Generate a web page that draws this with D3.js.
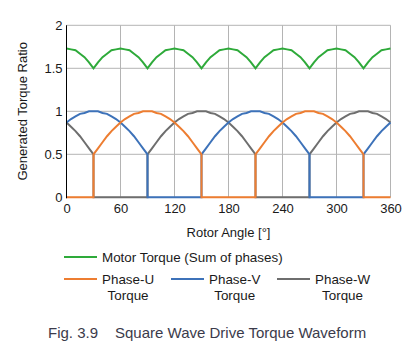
<!DOCTYPE html>
<html>
<head>
<meta charset="utf-8">
<script src="https://cdn.jsdelivr.net/npm/d3@7"></script>
<style>
  html, body { margin: 0; padding: 0; background: #fff; }
  svg { display: block; font-family: "Liberation Sans", Arial, sans-serif; }
</style>
</head>
<body>
<svg id="chart" width="419" height="349"></svg>
<script>
// Rotor angle samples [deg]; angles where a phase switches on/off appear twice
const angles = [
  0, 5, 10, 15, 20, 25, 30, 30,
  35, 40, 45, 50, 55, 60, 65, 70, 75, 80, 85, 90, 90,
  95, 100, 105, 110, 115, 120, 125, 130, 135, 140, 145, 150, 150,
  155, 160, 165, 170, 175, 180, 185, 190, 195, 200, 205, 210, 210,
  215, 220, 225, 230, 235, 240, 245, 250, 255, 260, 265, 270, 270,
  275, 280, 285, 290, 295, 300, 305, 310, 315, 320, 325, 330, 330,
  335, 340, 345, 350, 355, 360
];

// Phase-U torque ratio
const phaseU = [
  0, 0, 0, 0, 0, 0, 0, 0.50,
  0.57, 0.64, 0.71, 0.77, 0.82, 0.87, 0.91, 0.94, 0.97, 0.98, 1.00, 1.00, 1.00,
  1.00, 0.98, 0.97, 0.94, 0.91, 0.87, 0.82, 0.77, 0.71, 0.64, 0.57, 0.50, 0,
  0, 0, 0, 0, 0, 0, 0, 0, 0, 0, 0, 0, 0.50,
  0.57, 0.64, 0.71, 0.77, 0.82, 0.87, 0.91, 0.94, 0.97, 0.98, 1.00, 1.00, 1.00,
  1.00, 0.98, 0.97, 0.94, 0.91, 0.87, 0.82, 0.77, 0.71, 0.64, 0.57, 0.50, 0,
  0, 0, 0, 0, 0, 0
];

// Phase-V torque ratio
const phaseV = [
  0.87, 0.91, 0.94, 0.97, 0.98, 1.00, 1.00, 1.00,
  1.00, 0.98, 0.97, 0.94, 0.91, 0.87, 0.82, 0.77, 0.71, 0.64, 0.57, 0.50, 0,
  0, 0, 0, 0, 0, 0, 0, 0, 0, 0, 0, 0, 0.50,
  0.57, 0.64, 0.71, 0.77, 0.82, 0.87, 0.91, 0.94, 0.97, 0.98, 1.00, 1.00, 1.00,
  1.00, 0.98, 0.97, 0.94, 0.91, 0.87, 0.82, 0.77, 0.71, 0.64, 0.57, 0.50, 0,
  0, 0, 0, 0, 0, 0, 0, 0, 0, 0, 0, 0, 0.50,
  0.57, 0.64, 0.71, 0.77, 0.82, 0.87
];

// Phase-W torque ratio
const phaseW = [
  0.87, 0.82, 0.77, 0.71, 0.64, 0.57, 0.50, 0,
  0, 0, 0, 0, 0, 0, 0, 0, 0, 0, 0, 0, 0.50,
  0.57, 0.64, 0.71, 0.77, 0.82, 0.87, 0.91, 0.94, 0.97, 0.98, 1.00, 1.00, 1.00,
  1.00, 0.98, 0.97, 0.94, 0.91, 0.87, 0.82, 0.77, 0.71, 0.64, 0.57, 0.50, 0,
  0, 0, 0, 0, 0, 0, 0, 0, 0, 0, 0, 0, 0.50,
  0.57, 0.64, 0.71, 0.77, 0.82, 0.87, 0.91, 0.94, 0.97, 0.98, 1.00, 1.00, 1.00,
  1.00, 0.98, 0.97, 0.94, 0.91, 0.87
];

// Motor torque (sum of phases)
const motorTorque = [
  1.73, 1.72, 1.71, 1.67, 1.63, 1.57, 1.50, 1.50,
  1.57, 1.63, 1.67, 1.71, 1.72, 1.73, 1.72, 1.71, 1.67, 1.63, 1.57, 1.50, 1.50,
  1.57, 1.63, 1.67, 1.71, 1.72, 1.73, 1.72, 1.71, 1.67, 1.63, 1.57, 1.50, 1.50,
  1.57, 1.63, 1.67, 1.71, 1.72, 1.73, 1.72, 1.71, 1.67, 1.63, 1.57, 1.50, 1.50,
  1.57, 1.63, 1.67, 1.71, 1.72, 1.73, 1.72, 1.71, 1.67, 1.63, 1.57, 1.50, 1.50,
  1.57, 1.63, 1.67, 1.71, 1.72, 1.73, 1.72, 1.71, 1.67, 1.63, 1.57, 1.50, 1.50,
  1.57, 1.63, 1.67, 1.71, 1.72, 1.73
];

const xTicks = [0, 60, 120, 180, 240, 300, 360];
const yTicks = [0, 0.5, 1, 1.5, 2];

const colors = {
  motor: "#2eaa3a",
  u: "#ed7d31",
  v: "#3d72b9",
  w: "#6e6e6e"
};

const svg = d3.select("#chart");
const plotLeft = 66.5, plotRight = 390.5, plotTop = 25.3, plotBottom = 197.3;

const x = d3.scaleLinear().domain([0, 360]).range([plotLeft, plotRight]);
const y = d3.scaleLinear().domain([0, 2]).range([plotBottom, plotTop]);

// Grid
const grid = svg.append("g");
grid.selectAll("line.h").data(yTicks).join("line")
  .attr("x1", plotLeft).attr("x2", plotRight)
  .attr("y1", d => y(d)).attr("y2", d => y(d))
  .attr("stroke", "#b4b4b4").attr("stroke-width", 1);
grid.selectAll("line.v").data(xTicks).join("line")
  .attr("y1", plotTop).attr("y2", plotBottom)
  .attr("x1", d => x(d)).attr("x2", d => x(d))
  .attr("stroke", "#b4b4b4").attr("stroke-width", 1);

// Axes (labels only; the left axis line is drawn separately)
const xAxis = svg.append("g")
  .attr("transform", `translate(0,${plotBottom})`)
  .call(d3.axisBottom(x).tickValues(xTicks).tickSize(0).tickPadding(6).tickFormat(d3.format("d")));
const yAxis = svg.append("g")
  .attr("transform", `translate(${plotLeft},0)`)
  .call(d3.axisLeft(y).tickValues(yTicks).tickSize(0).tickPadding(4).tickFormat(d => String(d)));
[xAxis, yAxis].forEach(a => {
  a.select(".domain").remove();
  a.selectAll("text")
    .attr("fill", "#1a1a1a")
    .style("font-size", "13px")
    .style("font-family", "'Liberation Sans', Arial, sans-serif");
});
yAxis.selectAll("text").attr("dy", "0.32em");
xAxis.selectAll("text").attr("dy", "0.71em");

// Series lines
const idx = d3.range(angles.length);
const line = vals => d3.line()
  .x(i => x(angles[i]))
  .y(i => y(vals[i]))(idx);

const plot = svg.append("g").attr("fill", "none").attr("stroke-width", 2)
  .attr("stroke-linejoin", "miter");
plot.append("path").attr("d", line(phaseW)).attr("stroke", colors.w);
plot.append("path").attr("d", line(phaseV)).attr("stroke", colors.v);
plot.append("path").attr("d", line(phaseU)).attr("stroke", colors.u);
plot.append("path").attr("d", line(motorTorque)).attr("stroke", colors.motor);

// Left axis line
svg.append("line")
  .attr("x1", plotLeft).attr("x2", plotLeft)
  .attr("y1", plotTop).attr("y2", plotBottom + 1)
  .attr("stroke", "#000").attr("stroke-width", 1);

// Axis titles
svg.append("text")
  .attr("x", x(180)).attr("y", 237)
  .attr("text-anchor", "middle")
  .attr("fill", "#1a1a1a").style("font-size", "13px")
  .text("Rotor Angle [°]");
svg.append("text")
  .attr("transform", `translate(27,${(plotTop + plotBottom) / 2}) rotate(-90)`)
  .attr("text-anchor", "middle")
  .attr("fill", "#1a1a1a").style("font-size", "13px")
  .text("Generated Torque Ratio");

// Legend
const legend = svg.append("g").style("font-size", "13.4px").attr("fill", "#1a1a1a");
legend.append("line").attr("x1", 64).attr("x2", 97).attr("y1", 257).attr("y2", 257)
  .attr("stroke", colors.motor).attr("stroke-width", 2);
legend.append("text").attr("x", 102).attr("y", 261.5).text("Motor Torque (Sum of phases)");

const phaseItems = [
  { label: "Phase-U", color: colors.u, x0: 64 },
  { label: "Phase-V", color: colors.v, x0: 171 },
  { label: "Phase-W", color: colors.w, x0: 277 }
];
phaseItems.forEach(it => {
  legend.append("line").attr("x1", it.x0).attr("x2", it.x0 + 33).attr("y1", 279).attr("y2", 279)
    .attr("stroke", it.color).attr("stroke-width", 2);
  const t = legend.append("text").attr("x", it.x0 + 38).attr("y", 283.5).text(it.label);
  const w = t.node().getComputedTextLength();
  legend.append("text").attr("x", it.x0 + 38 + w / 2).attr("y", 300)
    .attr("text-anchor", "middle").text("Torque");
});

// Caption
const caption = svg.append("g").attr("fill", "#3b3b4b").style("font-size", "15px");
caption.append("text").attr("x", 48).attr("y", 338).text("Fig. 3.9");
caption.append("text").attr("x", 115).attr("y", 338).text("Square Wave Drive Torque Waveform");
</script>
</body>
</html>
